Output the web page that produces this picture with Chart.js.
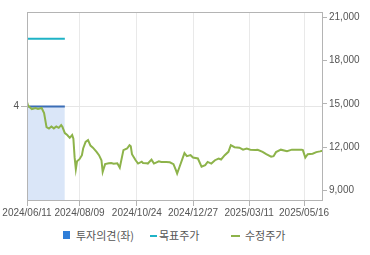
<!DOCTYPE html>
<html>
<head>
<meta charset="utf-8">
<script src="https://cdn.jsdelivr.net/npm/chart.js@4.4.1/dist/chart.umd.min.js"></script>
<style>
html,body{margin:0;padding:0;background:#fff;}
#wrap{position:relative;width:370px;height:255px;background:#fff;overflow:hidden;}
#c{position:absolute;left:0;top:0;}
.lg{position:absolute;font-family:"Noto Sans CJK KR","Noto Sans",sans-serif;font-size:11px;line-height:14px;color:#555;white-space:nowrap;}
.mk{position:absolute;}
</style>
</head>
<body>
<div id="wrap">
<canvas id="c" width="370" height="220"></canvas>
<div class="mk" style="left:63px;top:231px;width:7px;height:8px;background:#2f7ed8;"></div>
<div class="lg" style="left:76px;top:228px;">투자의견(좌)</div>
<div class="mk" style="left:150px;top:235px;width:7px;height:2px;background:#1fb3c6;"></div>
<div class="lg" style="left:159px;top:228px;">목표주가</div>
<div class="mk" style="left:231px;top:235px;width:9px;height:2px;background:#8db34a;"></div>
<div class="lg" style="left:245px;top:228px;">수정주가</div>
</div>
<script>
// trading-day index and adjusted price (수정주가)
const priceDay = [0,1,4,7,9,12,14,16,18,20,22,24,26,28,29,31,33,35,37,38,39,40,41,43,45,46,48,50,52,54,57,59,61,62,64,67,69,71,74,76,79,82,84,85,86,89,91,94,95,98,99,102,104,108,110,114,117,120,122,123,125,129,131,134,136,140,143,146,148,151,154,157,159,162,165,167,170,174,177,180,183,187,189,193,196,200,202,204,208,213,217,221,225,226,228,230,234,237,240,242];
const priceValue = [15120,14850,14640,14710,14640,14710,14360,13390,13290,13430,13300,13430,13340,13530,13410,12980,12840,12650,12840,12590,11310,10480,11030,11170,11450,11910,12370,12490,12110,11970,11680,11450,11100,10300,10830,10890,10910,10860,10890,10580,11800,11910,12140,12070,11520,11100,10870,11000,10910,10890,10870,11140,10870,11030,10980,10980,10960,10830,10410,10180,10650,11590,11380,11450,11290,11220,10650,10760,10980,10870,11100,11220,11150,11450,11680,12140,12000,11970,11830,11900,11830,11800,11820,11680,11520,11350,11380,11660,11830,11730,11830,11830,11830,11800,11280,11520,11550,11660,11710,11760];
// investment opinion (투자의견) and target price (목표주가)
const opinionDay = [0,31];
const opinionValue = [4,4];
const targetDay = [0,31];
const targetValue = [19500,19500];
// axis ticks
const tickDays = [0,43,90,136,182,227];
const tickLabels = ['2024/06/11','2024/08/09','2024/10/24','2024/12/27','2025/03/11','2025/05/16'];
const rightTicks = [9000,12000,15000,18000,21000];
const leftTicks = [4];

const toXY = (xs, ys) => xs.map((x,i)=>({x:x,y:ys[i]}));

const boxPlugin = {
  id:'box',
  afterDraw(chart){
    const a = chart.chartArea, ctx = chart.ctx;
    ctx.save();
    ctx.strokeStyle = '#b4b4b4';
    ctx.lineWidth = 1;
    ctx.strokeRect(Math.round(a.left)+0.5, Math.round(a.top)+0.5, Math.round(a.right-a.left)-1, Math.round(a.bottom-a.top)-1);
    ctx.restore();
  }
};

const tickFont = {family:'"Liberation Sans", Arial, sans-serif', size:10};

new Chart(document.getElementById('c'), {
  type:'line',
  data:{
    datasets:[
      {label:'수정주가', data:toXY(priceDay, priceValue), yAxisID:'yR', borderColor:'#8db34a', borderWidth:2, pointRadius:0, tension:0, fill:false},
      {label:'목표주가', data:toXY(targetDay, targetValue), yAxisID:'yR', borderColor:'#1fb3c6', borderWidth:2, pointRadius:0, fill:false},
      {label:'투자의견(좌)', data:toXY(opinionDay, opinionValue), yAxisID:'yL', borderColor:'#3b6db5', borderWidth:2, pointRadius:0, fill:'origin', backgroundColor:'rgba(205,222,245,0.75)'}
    ]
  },
  options:{
    responsive:false,
    animation:false,
    layout:{padding:{top:12,left:0,right:0,bottom:0}},
    plugins:{legend:{display:false}, tooltip:{enabled:false}},
    scales:{
      x:{
        type:'linear', min:0, max:242.5,
        afterBuildTicks:(s)=>{ s.ticks = tickDays.map(v=>({value:v})); },
        afterFit:(s)=>{ s.height = 19; },
        ticks:{autoSkip:false, maxRotation:0, padding:1, color:'#555', font:tickFont,
          callback:(v,i)=>tickLabels[i]},
        grid:{color:'#e9e9e9', tickColor:'#b4b4b4', tickLength:5, drawOnChartArea:true},
        border:{display:false}
      },
      yL:{
        type:'linear', position:'left', min:0, max:8,
        afterBuildTicks:(s)=>{ s.ticks = leftTicks.map(v=>({value:v})); },
        afterFit:(s)=>{ s.width = 27; },
        ticks:{padding:2, color:'#555', font:tickFont},
        grid:{color:'#e6e6e6', tickColor:'#b4b4b4', tickLength:6},
        border:{display:false}
      },
      yR:{
        type:'linear', position:'right', min:8280, max:21350,
        afterBuildTicks:(s)=>{ s.ticks = rightTicks.map(v=>({value:v})); },
        afterFit:(s)=>{ s.width = 47; },
        ticks:{padding:2, color:'#555', font:tickFont,
          callback:(v)=>v.toLocaleString('en-US')},
        grid:{drawOnChartArea:false, tickColor:'#b4b4b4', tickLength:4},
        border:{display:false}
      }
    }
  },
  plugins:[boxPlugin]
});
</script>
</body>
</html>
